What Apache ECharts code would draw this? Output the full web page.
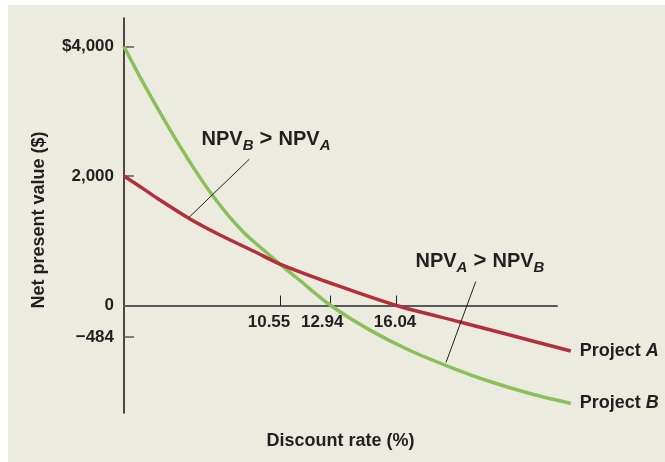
<!DOCTYPE html>
<html><head><meta charset="utf-8">
<script src="https://cdn.jsdelivr.net/npm/echarts@6/dist/echarts.min.js"></script>
<style>
html,body{margin:0;padding:0;background:#fff;}
#wrap{position:relative;width:665px;height:462px;background:#fff;overflow:hidden;}
#bg{position:absolute;left:8px;top:5px;right:0;bottom:0;background:#ECEBE0;}
#chart{position:absolute;left:0;top:0;width:665px;height:462px;}
</style></head><body>
<div id="wrap"><div id="bg"></div><div id="chart"></div></div>
<script>
// Discount rate (%) vs NPV ($)
const projectARate = [3.2, 3.95, 4.75, 6.31, 7.72, 9.37, 10.55, 13.05, 16.04, 19.03, 21.38, 24.25];
const projectANpv  = [2000, 1838, 1660, 1336, 1089, 830, 640, 332, 0, -255, -456, -703];
const projectBRate = [3.2, 3.95, 4.9, 5.84, 6.78, 7.49, 8.19, 8.9, 9.61, 10.55, 11.49, 12.94, 14.79, 16.67, 18.56, 20.44, 22.33, 24.25];
const projectBNpv  = [4000, 3532, 2979, 2457, 1975, 1648, 1361, 1109, 903, 640, 386, 0, -380, -695, -950, -1174, -1359, -1513];
const xTickValues = [10.55, 12.94, 16.04];
const xTickLabels = ['10.55', '12.94', '16.04'];
const yTickValues = [-484, 0, 2000, 4000];
const yTickLabels = ['\u2212484', '0', '2,000', '$4,000'];
const seriesNames = ['Project A', 'Project B'];
const arrowFrom = [[9.10, 2258], [19.77, 368]];
const arrowTo   = [[6.26, 1360], [18.37, -880]];
const noteAt    = [[9.89, 2571], [19.97, 687]];
const noteMain  = [['NPV', 'NPV'], ['NPV', 'NPV']];
const noteSub   = [['B', 'A'], ['A', 'B']];

const X_MIN = 3.2, X_AXIS_MAX = 23.6, X_PLOT_MAX = 24.3;
const Y_MIN = -1660, Y_MAX = 4440;
const RED = '#B3303B', GREEN = '#8CBF5A', INK = '#231F20', GRAY = '#59595B';
const FONT = '"Liberation Sans", Arial, sans-serif';

const zip = (xs, ys) => xs.map((x, i) => [x, ys[i]]);

const chart = echarts.init(document.getElementById('chart'), null, {renderer: 'canvas'});

const labelRich = {
  n: {fontFamily: FONT, fontWeight: 'bold', fontSize: 18, color: INK},
  i: {fontFamily: FONT, fontWeight: 'bold', fontStyle: 'italic', fontSize: 18, color: INK}
};

const xPad = [22, 17, 3];
const xRich = {};
xPad.forEach((p, i) => { xRich['s' + i] = {fontFamily: FONT, fontWeight: 'bold', fontSize: 17, color: INK, padding: [0, p, 0, 0]}; });

const W = 665, H = 462;
const gridLeft = 124, gridRight = 108, gridTop = 18, gridBottom = 49;
const axisW = W - gridLeft - gridRight;
const plotH = H - gridTop - gridBottom;
// the curves run a little past the end of the drawn axis: same scale, wider grid
const plotRight = W - gridLeft - axisW * (X_PLOT_MAX - X_MIN) / (X_AXIS_MAX - X_MIN);
// raise the x axis from the grid's bottom edge up to the value 0
const zeroOffset = -plotH * (0 - Y_MIN) / (Y_MAX - Y_MIN);

const option = {
  backgroundColor: 'transparent',
  animation: false,
  grid: [
    {left: gridLeft, right: gridRight, top: gridTop, bottom: gridBottom, containLabel: false, outerBoundsMode: 'none'},
    {left: gridLeft, right: plotRight, top: gridTop, bottom: gridBottom, containLabel: false, outerBoundsMode: 'none'}
  ],
  xAxis: [{
    gridIndex: 0, type: 'value', min: X_MIN, max: X_AXIS_MAX, offset: zeroOffset,
    name: 'Discount rate (%)', nameLocation: 'middle', nameGap: 127,
    nameTextStyle: {fontFamily: FONT, fontWeight: 'bold', fontSize: 18, color: INK},
    axisLine: {show: true, onZero: false, lineStyle: {color: GRAY, width: 2}},
    axisTick: {show: true, inside: true, length: 10, customValues: xTickValues, lineStyle: {color: INK, width: 1}},
    axisLabel: {
      show: true, margin: 8, customValues: xTickValues,
      formatter: (v) => { const i = xTickValues.indexOf(v); return '{s' + i + '|' + xTickLabels[i] + '}'; },
      rich: xRich
    },
    splitLine: {show: false}
  }, {
    gridIndex: 1, type: 'value', min: X_MIN, max: X_PLOT_MAX, show: false
  }],
  yAxis: [{
    gridIndex: 0, type: 'value', min: Y_MIN, max: Y_MAX,
    name: 'Net present value ($)', nameLocation: 'middle', nameRotate: 90, nameGap: 76,
    nameTextStyle: {fontFamily: FONT, fontWeight: 'bold', fontSize: 18, color: INK, padding: [0, 9, 0, 0]},
    axisLine: {show: true, onZero: false, lineStyle: {color: INK, width: 1.6}},
    axisTick: {show: true, inside: true, length: 10, customValues: [-484, 2000, 4000], lineStyle: {color: GRAY, width: 1.5}},
    axisLabel: {
      show: true, margin: 10, customValues: yTickValues,
      formatter: (v) => yTickLabels[yTickValues.indexOf(v)],
      fontFamily: FONT, fontWeight: 'bold', fontSize: 17, color: INK
    },
    splitLine: {show: false}
  }, {
    gridIndex: 1, type: 'value', min: Y_MIN, max: Y_MAX, show: false
  }],
  series: [
    {
      type: 'line', name: seriesNames[1], xAxisIndex: 1, yAxisIndex: 1,
      data: zip(projectBRate, projectBNpv),
      smooth: 0.3, showSymbol: false, z: 2,
      lineStyle: {color: GREEN, width: 3.5}, itemStyle: {color: GREEN},
      endLabel: {show: true, distance: 9, formatter: '{n|Project }{i|B}', rich: labelRich},
      emphasis: {disabled: true}
    },
    {
      type: 'line', name: seriesNames[0], xAxisIndex: 1, yAxisIndex: 1,
      data: zip(projectARate, projectANpv),
      smooth: 0.3, showSymbol: false, z: 3,
      lineStyle: {color: RED, width: 3.5}, itemStyle: {color: RED},
      endLabel: {show: true, distance: 9, formatter: '{n|Project }{i|A}', rich: labelRich},
      emphasis: {disabled: true},
      markLine: {
        silent: true, symbol: ['none', 'arrow'], symbolSize: [0, 10],
        label: {show: false}, emphasis: {disabled: true},
        lineStyle: {color: INK, width: 1, type: 'solid'},
        data: arrowFrom.map((f, i) => [{coord: f}, {coord: arrowTo[i]}])
      }
    }
  ]
};
chart.setOption(option);

const noteRich = {
  m: {fontFamily: FONT, fontWeight: 'bold', fontSize: 20, fill: INK},
  g: {fontFamily: FONT, fontWeight: 'bold', fontSize: 22, fill: INK},
  s: {fontFamily: FONT, fontWeight: 'bold', fontStyle: 'italic', fontSize: 15, fill: INK, padding: [13, 0, 0, 0]}
};
chart.setOption({
  graphic: noteAt.map((p, i) => {
    const px = chart.convertToPixel({gridIndex: 1}, p);
    return {
      type: 'text', x: px[0], y: px[1], silent: true, z: 10,
      style: {
        text: '{m|' + noteMain[i][0] + '}{s|' + noteSub[i][0] + '}{g| > }{m|' + noteMain[i][1] + '}{s|' + noteSub[i][1] + '}',
        align: 'center', verticalAlign: 'middle', rich: noteRich
      }
    };
  })
});
</script>
</body></html>
